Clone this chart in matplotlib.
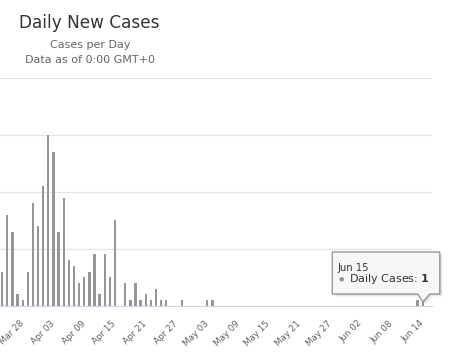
import matplotlib
matplotlib.use('Agg')
import matplotlib.pyplot as plt
import matplotlib.dates as mdates
from matplotlib.patches import Polygon
from matplotlib.transforms import Affine2D, ScaledTranslation
import pandas as pd

# Daily new cases, Mar 25 - Jun 15
dates = pd.date_range('2020-03-25', '2020-06-15', freq='D')
cases = [6, 16, 13, 2, 1, 6, 18, 14, 21,          # Mar 25 - Apr 02
         30, 27, 13, 19, 8, 7, 4, 5, 6, 9, 2,     # Apr 03 - Apr 13
         9, 5, 15, 0, 4, 1, 4, 1, 2, 1, 3, 1, 1,  # Apr 14 - Apr 26
         0, 0, 1, 0, 0, 0, 0, 1, 1]               # Apr 27 - May 05
cases += [0] * 39                                 # May 06 - Jun 13
cases += [1, 1]                                   # Jun 14 - Jun 15

tick_dates = pd.date_range('2020-03-28', '2020-06-14', freq='6D')
tooltip_date = dates[-1]
tooltip_value = cases[-1]

W, H = 463, 363
fig = plt.figure(figsize=(W / 100, H / 100), dpi=100)
ax = fig.add_axes([0, (H - 305.7) / H, 431.7 / W, (305.7 - 78) / H])

ax.bar(dates, cases, width=0.45, color='#969696', zorder=3)

ref = mdates.date2num(pd.Timestamp('2020-04-03'))
ax.set_xlim(ref - 9.42, ref + 74.74)
ax.set_ylim(0, 40)
ax.set_yticks([10, 20, 30, 40])
ax.yaxis.grid(True, color='#e6e6e6', linewidth=1)
ax.tick_params(axis='y', left=False, labelleft=False)
for s in ['top', 'right', 'left']:
    ax.spines[s].set_visible(False)
ax.spines['bottom'].set_color('#ccd6eb')
ax.set_axisbelow(True)

ax.set_xticks(tick_dates)
ax.xaxis.set_major_formatter(mdates.DateFormatter('%b %d'))
ax.tick_params(axis='x', length=0, pad=9.4, labelsize=6.3, labelcolor='#606060')
for lab in ax.get_xticklabels():
    lab.set_rotation(45)
    lab.set_ha('right')
    lab.set_va('top')
    lab.set_rotation_mode('anchor')
    lab.set_transform(lab.get_transform() + ScaledTranslation(1.7 / 100, 0, fig.dpi_scale_trans))

# titles
fig.text(19 / W, 1 - 27.7 / H, 'Daily New Cases', fontsize=12.2, color='#333333',
         ha='left', va='baseline')
fig.text(89.8 / W, 1 - 47.7 / H, 'Cases per Day', fontsize=8, color='#666666',
         ha='center', va='baseline')
fig.text(89.8 / W, 1 - 63.3 / H, 'Data as of 0:00 GMT+0', fontsize=8, color='#666666',
         ha='center', va='baseline')

# tooltip anchored on the last bar
xnum = mdates.date2num(tooltip_date)
ax_x, ax_y = ax.transData.transform((xnum, tooltip_value))
tip = (ax_x, ax_y - 2.0)
at_tip = Affine2D().translate(*tip)
shape = [(-90.5, 8), (-5, 8), (0, 0), (7, 8), (17, 8), (17, 50), (-90.5, 50)]
for i, a in enumerate([0.04, 0.06, 0.08]):
    off = 3 - i
    shadow = Polygon(shape, closed=True, facecolor='black', edgecolor='none', alpha=a,
                     transform=Affine2D().translate(tip[0] + off, tip[1] - off), zorder=5)
    shadow.set_clip_on(False)
    fig.add_artist(shadow)
box = Polygon(shape, closed=True, facecolor='#f7f7f7', edgecolor='#999999', linewidth=1,
              transform=at_tip, zorder=6)
box.set_clip_on(False)
fig.add_artist(box)

fig.text(-85.5, 34, tooltip_date.strftime('%b %d'), transform=at_tip, fontsize=7.2,
         color='#333333', ha='left', va='center', zorder=7)
fig.text(-81.5, 23.5, '\u25cf', transform=at_tip, fontsize=4.5, color='#969696',
         ha='center', va='center', zorder=7)
fig.text(-74, 23.5, 'Daily Cases: $\\mathbf{%d}$' % tooltip_value, transform=at_tip,
         fontsize=8, color='#333333', ha='left', va='center', zorder=7)

fig.savefig('out.png', dpi=100)
